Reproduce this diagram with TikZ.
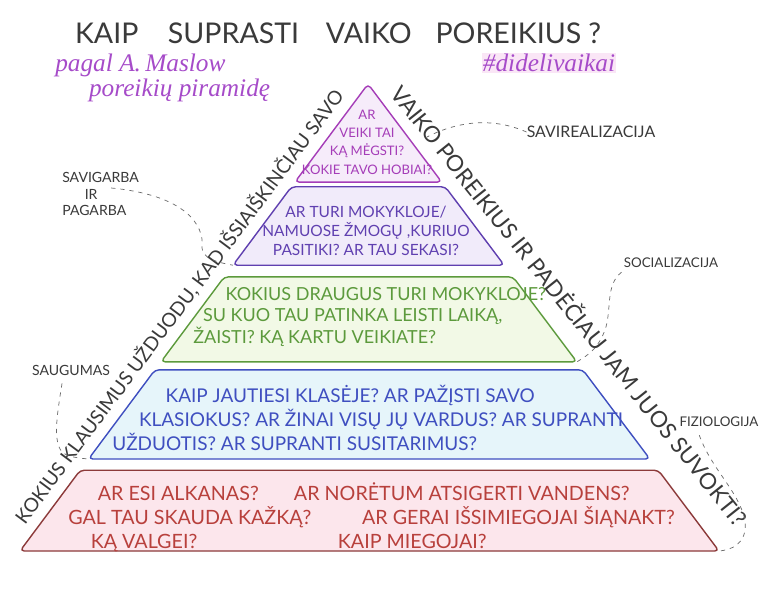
\documentclass[tikz,border=0pt]{standalone}
\usepackage{fontspec}
\setmainfont{Lato}
\newfontfamily\handfont{Liberation Serif}
\usetikzlibrary{calc}
\definecolor{InkGrey}{HTML}{3A3A3A}
\definecolor{ScriptPurple}{HTML}{A64BC9}
\definecolor{HashPink}{HTML}{FAE6F6}
\definecolor{TopPurple}{HTML}{A53DB8}
\definecolor{TopFill}{HTML}{F6ECFA}
\definecolor{SecViolet}{HTML}{6040B0}
\definecolor{SecFill}{HTML}{F1EBFA}
\definecolor{SocGreen}{HTML}{5C9A3C}
\definecolor{SocFill}{HTML}{F2F9E6}
\definecolor{SafeBlue}{HTML}{3F4FC0}
\definecolor{SafeFill}{HTML}{E6F5FA}
\definecolor{BodyRed}{HTML}{8C3A3A}
\definecolor{BodyText}{HTML}{B8403C}
\definecolor{BodyFill}{HTML}{FCE6EC}

\begin{document}
\begin{tikzpicture}[
    x=0.025cm, y=-0.025cm,
    tier/.style={line width=1pt, rounded corners=3pt, line join=round},
    question/.style={inner sep=0pt, align=left},
    edgetext/.style={text=InkGrey, sloped, inner sep=0pt},
    calloutlabel/.style={text=InkGrey, inner sep=0pt, align=left},
    leader/.style={InkGrey!75, dashed, dash pattern=on 3pt off 3.5pt, line width=0.5pt},
    script/.style={font=\handfont\itshape\fontsize{18}{14}\selectfont, text=ScriptPurple, inner sep=0pt},
]
\path[fill=white, use as bounding box] (0,0) rectangle (768,595);

% --- nadpis ---
\node[font=\fontsize{20.3}{20.3}\selectfont, text=InkGrey] (title) at (338,33)
    {KAIP\hspace{21pt}SUPRASTI\hspace{19pt}VAIKO\hspace{17pt}POREIKIUS\hspace{5pt}?};
\node[script, anchor=west, align=left] (maslow) at (55,78) {pagal A.\,Maslow\\\hspace*{24pt}poreikių piramidę};
\node[script, fill=HashPink, inner sep=1pt] (hashtag) at (549,63) {\#didelivaikai};

% --- piramidė ---
\coordinate (apex) at (368,84);
\coordinate (base-l) at (20,551);
\coordinate (base-r) at (719,551);

\draw[tier, draw=TopPurple, fill=TopFill] (apex) -- ($(apex)!0.210!(base-l)$) coordinate (tier1-bl)
    -- ($(apex)!0.210!(base-r)$) coordinate (tier1-br) -- cycle;
\foreach \ftop/\fbot/\col/\fil/\k in {0.220/0.388/SecViolet/SecFill/2, 0.413/0.595/SocGreen/SocFill/3,
    0.612/0.803/SafeBlue/SafeFill/4, 0.827/1.000/BodyRed/BodyFill/5}{
    \draw[tier, draw=\col, fill=\fil] ($(apex)!\ftop!(base-l)$) coordinate (tier\k-tl)
        -- ($(apex)!\fbot!(base-l)$) coordinate (tier\k-bl)
        -- ($(apex)!\fbot!(base-r)$) coordinate (tier\k-br)
        -- ($(apex)!\ftop!(base-r)$) coordinate (tier\k-tr) -- cycle;
}

% --- klausimai ---
\node[question, align=center, text=TopPurple, font=\fontsize{9.3}{13}\selectfont] (q1) at (367,142)
    {AR\\VEIKI TAI\\KĄ MĖGSTI?\\KOKIE TAVO HOBIAI?};
\node[question, align=center, text=SecViolet, font=\fontsize{11}{13.5}\selectfont] (q2) at (366,231)
    {AR TURI MOKYKLOJE/\\NAMUOSE ŽMOGŲ ,KURIUO\\PASITIKI? AR TAU SEKASI?};
\node[question, anchor=west, text=SocGreen, font=\fontsize{12.8}{15.3}\selectfont] (q3) at (193,317)
    {\hspace*{23pt}KOKIUS DRAUGUS TURI MOKYKLOJE?\\\hspace*{7pt}SU KUO TAU PATINKA LEISTI LAIKĄ,\\ŽAISTI? KĄ KARTU VEIKIATE?};
\node[question, anchor=west, text=SafeBlue, font=\fontsize{13.5}{17}\selectfont] (q4) at (112,418)
    {\hspace*{38pt}KAIP JAUTIESI KLASĖJE? AR PAŽĮSTI SAVO\\\hspace*{19pt}KLASIOKUS? AR ŽINAI VISŲ JŲ VARDUS? AR SUPRANTI\\UŽDUOTIS? AR SUPRANTI SUSITARIMUS?};
\node[question, anchor=west, text=BodyText, font=\fontsize{14}{17}\selectfont] (q5) at (68,517)
    {\hspace*{21pt}AR ESI ALKANAS?\hspace{25pt}AR NORĖTUM ATSIGERTI VANDENS?\\GAL TAU SKAUDA KAŽKĄ?\hspace{36pt}AR GERAI IŠSIMIEGOJAI ŠIĄNAKT?\\\hspace*{16pt}KĄ VALGEI?\hspace{100pt}KAIP MIEGOJAI?};

% --- tekstas palei kraštus ---
\path (base-l) -- node[edgetext, pos=0.50, above=6pt, font=\fontsize{13.7}{13.7}\selectfont] (left-edge)
    {KOKIUS KLAUSIMUS UŽDUODU, KAD IŠSIAIŠKINČIAU SAVO} (apex);
\path (apex) -- node[edgetext, pos=0.50, above=7pt, font=\fontsize{16}{16}\selectfont] (right-edge)
    {VAIKO POREIKIUS IR PADĖČIAU JAM JUOS SUVOKTI?} ($(base-r)+(22,0)$);

% --- poreikių pavadinimai ---
\node[calloutlabel, font=\fontsize{11.3}{11.3}\selectfont] (selfreal) at (591,132) {SAVIREALIZACIJA};
\node[calloutlabel, anchor=west, font=\fontsize{10}{12}\selectfont] (selfesteem) at (62,194) {SAVIGARBA\\\hspace*{16pt}IR\\PAGARBA};
\node[calloutlabel, font=\fontsize{9.5}{9.5}\selectfont] (social) at (671,263) {SOCIALIZACIJA};
\node[calloutlabel, font=\fontsize{10}{10}\selectfont] (safety) at (71,370) {SAUGUMAS};
\node[calloutlabel, font=\fontsize{9.5}{9.5}\selectfont] (physio) at (719,422) {FIZIOLOGIJA};

\coordinate (tip-top) at (427,137);
\draw[leader] (selfreal.west) .. controls (495,118) and (460,120) .. (tip-top);
\draw[leader] ($(selfesteem.east)+(-28,-6)$) .. controls (185,195) and (205,225) .. (202,248)
    .. controls (203,258) and (215,262) .. (tier2-bl);
\draw[leader] ($(social.south west)+(-2,4)$) .. controls (605,285) and (612,310) .. (605,330)
    .. controls (598,348) and (590,354) .. (tier3-br);
\draw[leader] ($(safety.south)+(-9,8)$) .. controls (58,410) and (52,440) .. (62,452)
    .. controls (68,457) and (78,458) .. (tier4-bl);
\draw[leader] ($(physio.south west)+(20,8)$) .. controls (712,470) and (738,490) .. (745,520)
    .. controls (748,545) and (730,550) .. (tier5-br);
\end{tikzpicture}
\end{document}
